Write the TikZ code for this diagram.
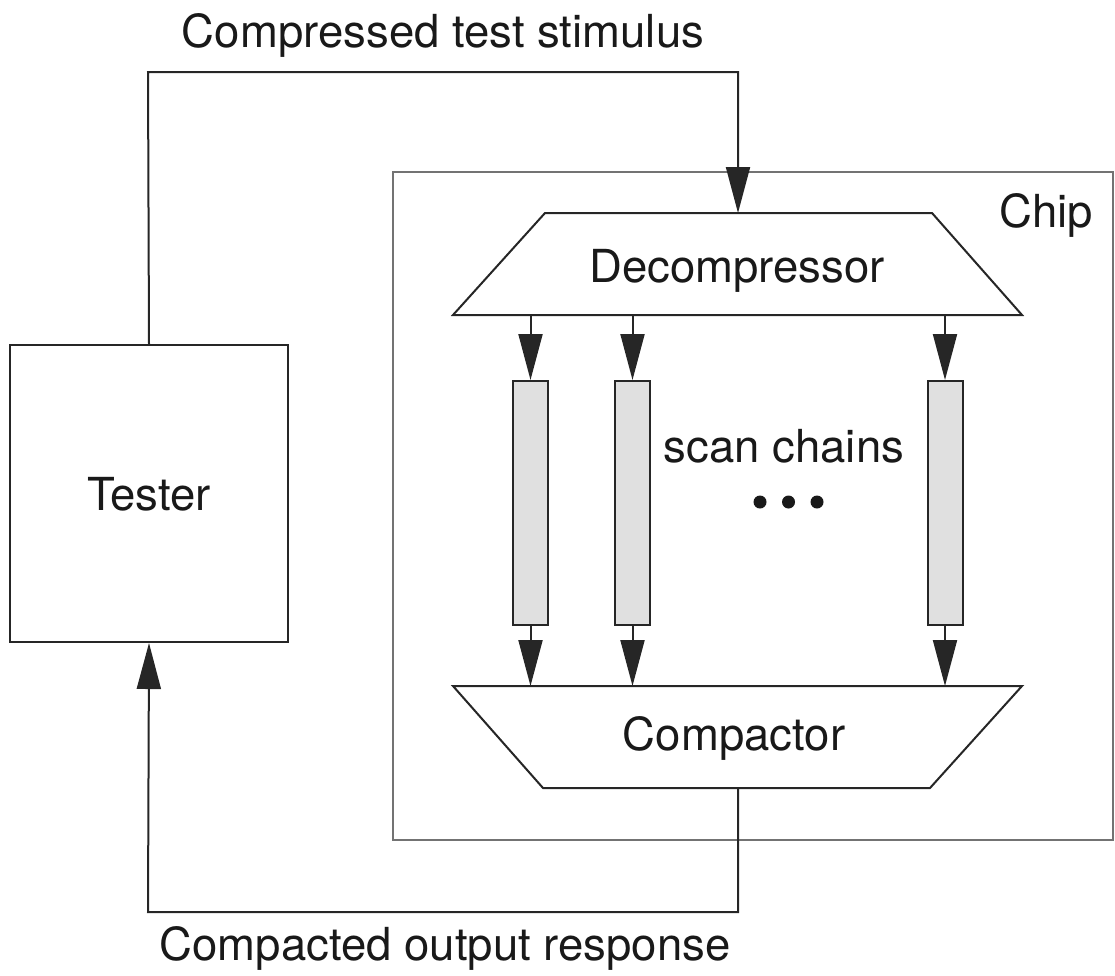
\documentclass[tikz,border=0pt]{standalone}
\usepackage{fontspec}
\setmainfont{TeX Gyre Heros}
\usetikzlibrary{arrows.meta}
\begin{document}
\begin{tikzpicture}[x=1pt,y=-1pt,line join=miter,
  ln/.style={line width=2pt,draw=black!85},
  arr/.style={ln,-{Triangle[length=46pt,width=24pt]}},
  lbl/.style={font=\fontsize{45.5}{54}\selectfont,text=black!90,inner sep=0pt,anchor=base},
  chain/.style={ln,fill=black!12,minimum width=35pt,minimum height=244pt,inner sep=0pt}]
\useasboundingbox (0,0) rectangle (1115,975);
% chip
\draw[line width=2pt,draw=black!55] (393,172) rectangle (1113,840);
\node[lbl] (chip) at (1046,227) {Chip};
% tester
\node[ln,minimum width=278pt,minimum height=297pt,inner sep=0pt] (tester) at (149,493.5) {};
\node[lbl] (testerlbl) at (149,510) {Tester};
% decompressor
\draw[ln] (545,213) coordinate (dtop) -- (932,213) -- (1022,315) -- (453,315) coordinate (dbot) -- cycle;
\node[lbl] (decomp) at (737,282) {Decompressor};
\coordinate (din) at (738,213);
% compactor
\draw[ln] (453,686) coordinate (ctop) -- (1022,686) -- (930,788) -- (543,788) coordinate (cbot) -- cycle;
\node[lbl] (comp) at (734,750) {Compactor};
\coordinate (cout) at (738,788);
% scan chains
\node[chain] (c1) at (530.5,503) {};
\node[chain] (c2) at (632.5,503) {};
\node[chain] (c3) at (945,503) {};
\foreach \c in {c1,c2,c3}{
  \draw[arr] (\c.north |- dbot) -- (\c.north);
  \draw[arr] (\c.south) -- (\c.south |- ctop);
}
\node[lbl] (scl) at (784,462) {scan chains};
\fill[black!90] (760,502) circle (6.5pt) (788.5,502) circle (6.5pt) (817,502) circle (6.5pt);
% top loop
\coordinate (tl) at (148,72);
\coordinate (tr) at (738,72);
\draw[arr] (tester.north) -- (tl) -- (tr) -- (din);
\node[lbl] (stim) at (443,47) {Compressed test stimulus};
% bottom loop
\coordinate (bl) at (148,912);
\coordinate (br) at (738,912);
\draw[arr] (cout) -- (br) -- (bl) -- (tester.south);
\node[lbl] (resp) at (445,960) {Compacted output response};
\end{tikzpicture}
\end{document}
